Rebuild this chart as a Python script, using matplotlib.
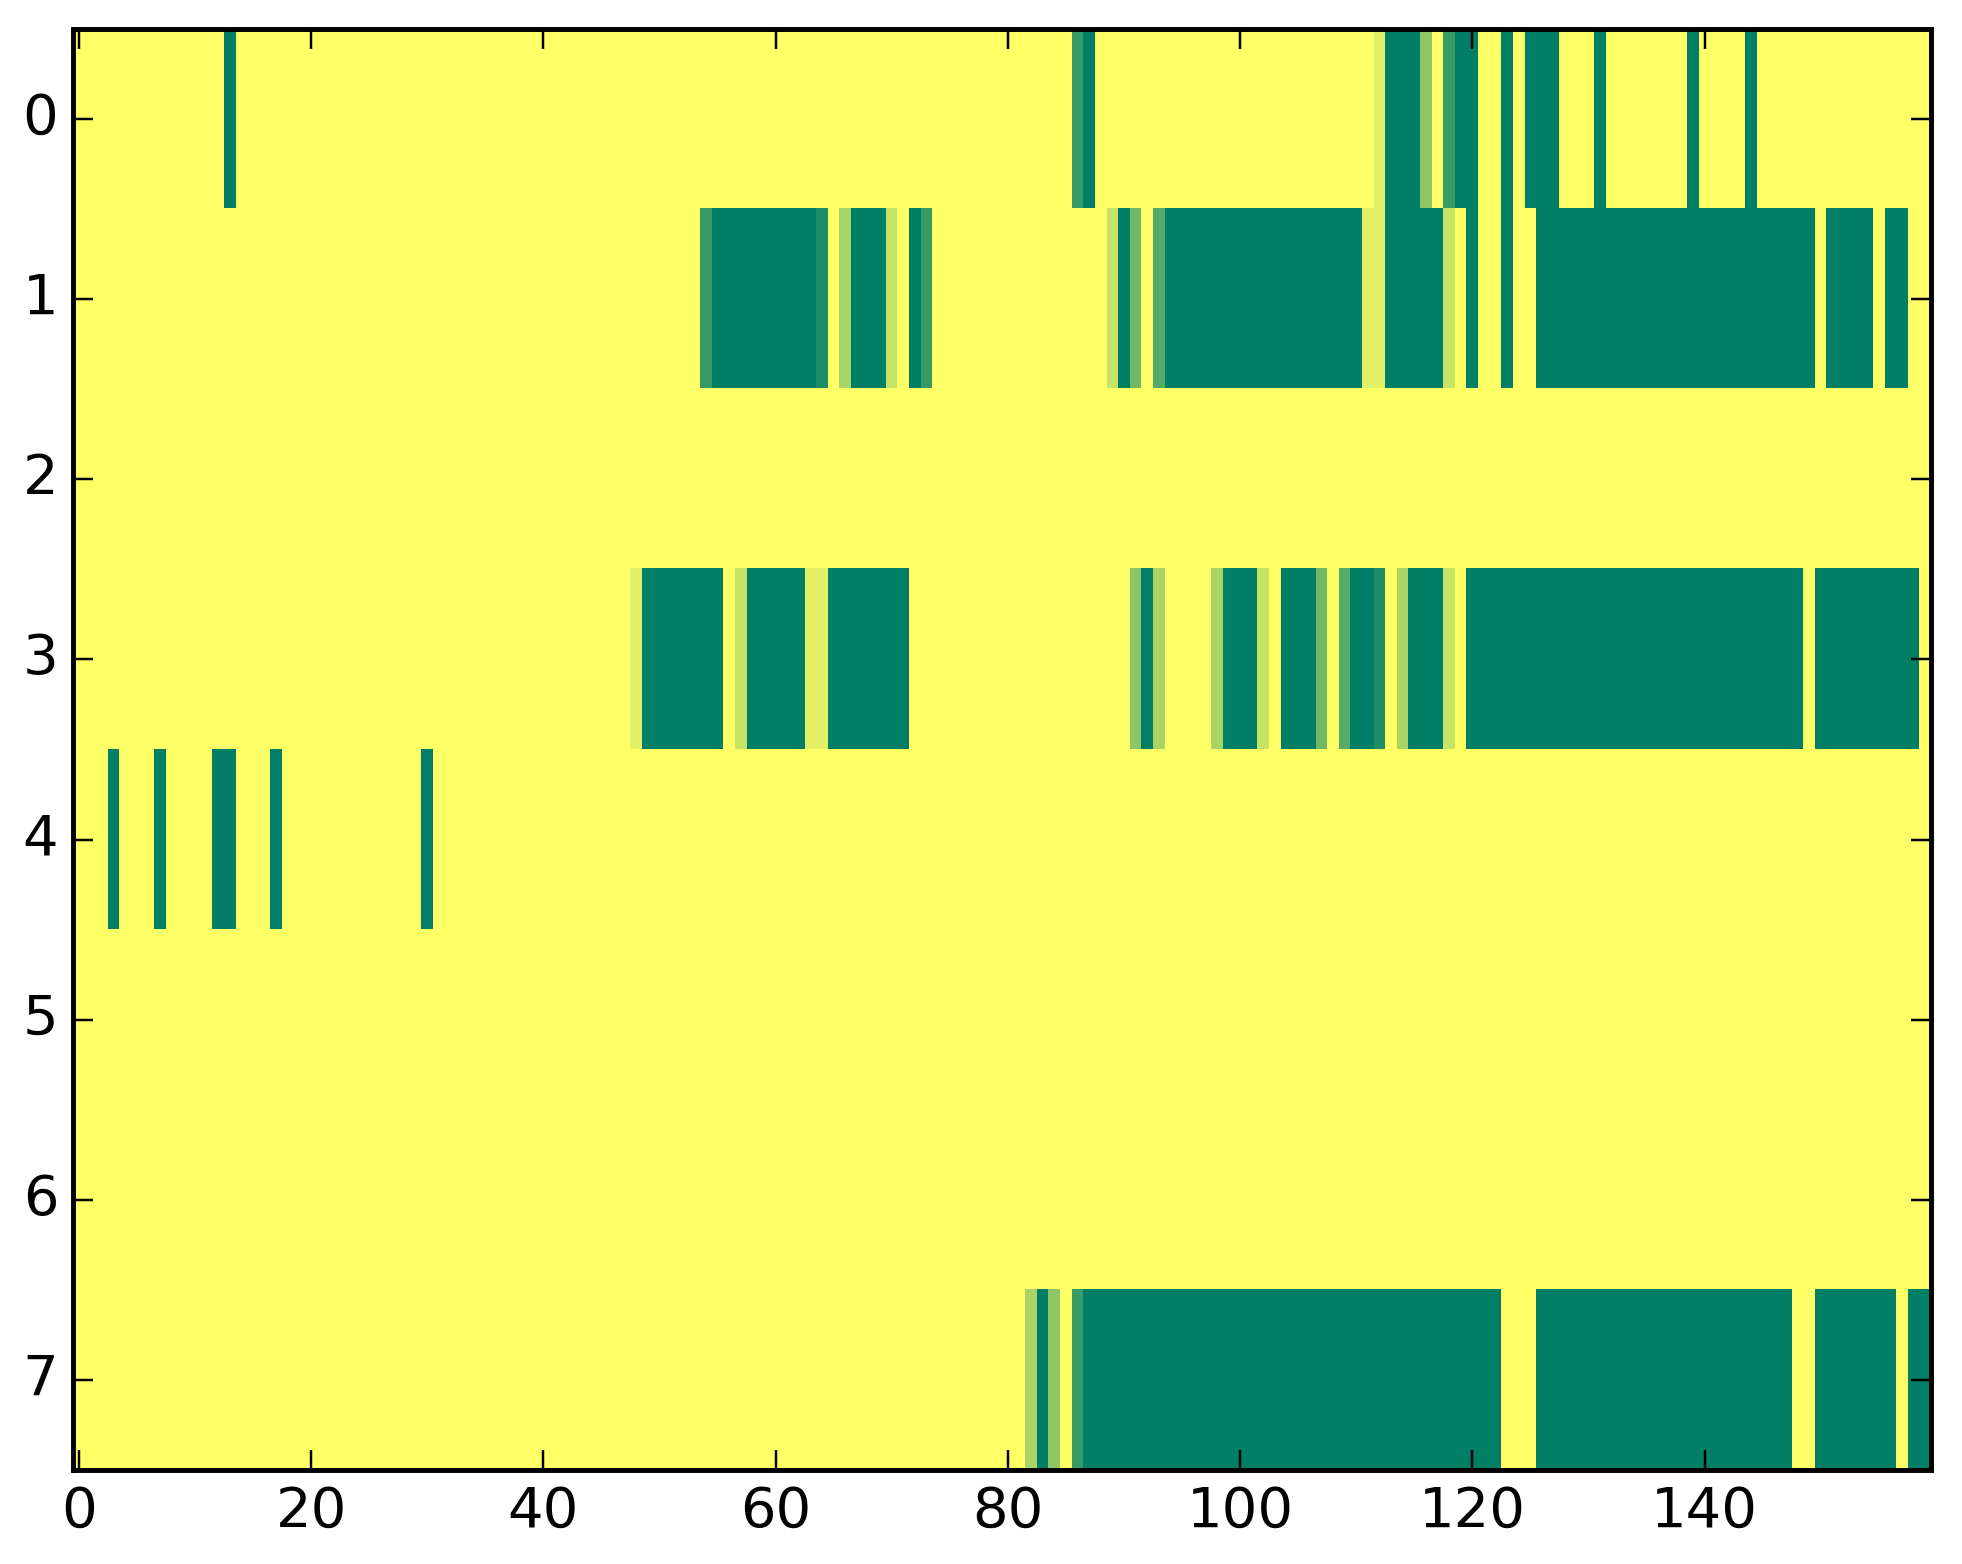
import numpy as np
import matplotlib
matplotlib.use('Agg')
import matplotlib.pyplot as plt

plt.style.use('classic')

# grid size
n_rows = 8
n_cols = 160

# cells per row: (first column, last column, level out of 9)
row0 = [(13, 13, 9), (86, 86, 7), (87, 87, 9), (112, 112, 1), (113, 115, 9),
        (116, 116, 4), (118, 118, 7), (119, 120, 9), (123, 123, 9),
        (125, 127, 9), (131, 131, 9), (139, 139, 9), (144, 144, 9)]
row1 = [(54, 54, 7), (55, 63, 9), (64, 64, 8), (66, 66, 3), (67, 69, 9),
        (70, 70, 2), (72, 72, 9), (73, 73, 7), (89, 89, 2), (90, 90, 9),
        (91, 91, 5), (93, 93, 6), (94, 110, 9), (111, 112, 1), (113, 117, 9),
        (118, 118, 2), (120, 120, 9), (123, 123, 9), (126, 149, 9),
        (151, 154, 9), (156, 157, 9)]
row2 = []
row3 = [(48, 48, 1), (49, 55, 9), (57, 57, 2), (58, 62, 9), (63, 64, 1),
        (65, 71, 9), (91, 91, 4), (92, 92, 9), (93, 93, 3), (98, 98, 3),
        (99, 101, 9), (102, 102, 2), (104, 106, 9), (107, 107, 5),
        (109, 109, 6), (110, 111, 9), (112, 112, 8), (114, 114, 3),
        (115, 117, 9), (118, 118, 2), (120, 148, 9), (150, 158, 9)]
row4 = [(3, 3, 9), (7, 7, 9), (12, 13, 9), (17, 17, 9), (30, 30, 9)]
row5 = []
row6 = []
row7 = [(82, 82, 3), (83, 83, 9), (84, 84, 4), (86, 86, 7), (87, 122, 9),
        (126, 147, 9), (150, 156, 9), (158, 159, 9)]

rows = [row0, row1, row2, row3, row4, row5, row6, row7]

data = np.zeros((n_rows, n_cols))
for i, runs in enumerate(rows):
    for a, b, level in runs:
        data[i, a:b + 1] = level / 9.0

plt.rcParams['font.size'] = 11.4
plt.rcParams['xtick.major.pad'] = 3
plt.rcParams['ytick.major.pad'] = 3

dpi = 354
fig = plt.figure(figsize=(1963 / dpi, 1564 / dpi), dpi=dpi, facecolor='white')
ax = fig.add_axes([0.0372, 0.0601, 0.9465, 0.9214])

ax.imshow(data, cmap='summer_r', vmin=0, vmax=1, aspect='auto',
          interpolation='nearest')

ax.set_xticks(np.arange(0, 141, 20))
ax.set_yticks(np.arange(0, 8))
ax.set_xlim(-0.5, n_cols - 0.5)
ax.set_ylim(n_rows - 0.5, -0.5)

fig.savefig('out.png', dpi=dpi, facecolor='white')
